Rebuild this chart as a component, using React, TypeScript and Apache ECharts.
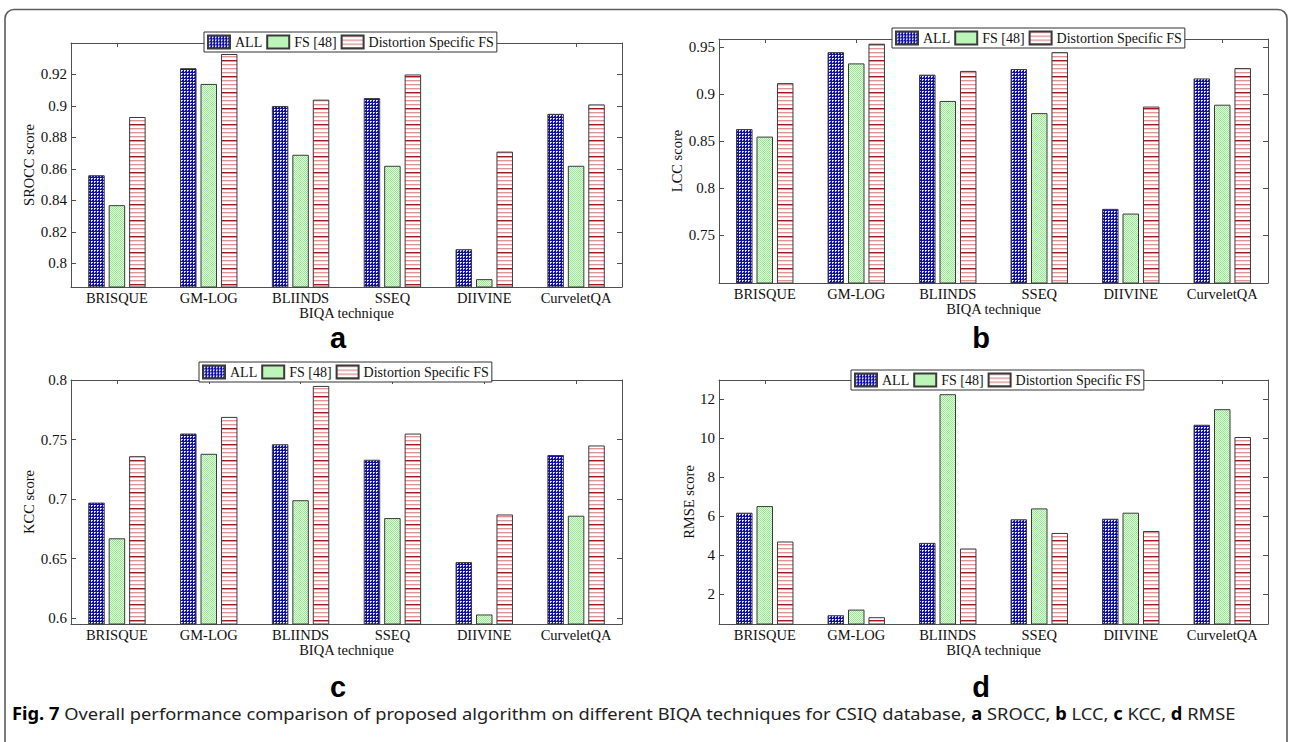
import React, { useEffect, useRef } from 'react';
import * as echarts from 'echarts';

// Categories and series
const techniques = ['BRISQUE', 'GM-LOG', 'BLIINDS', 'SSEQ', 'DIIVINE', 'CurveletQA'];
const seriesNames = ['ALL', 'FS [48]', 'Distortion Specific FS'];

// (a) SROCC
const sroccAll = [0.856, 0.924, 0.9, 0.905, 0.809, 0.895];
const sroccFs = [0.837, 0.914, 0.869, 0.862, 0.79, 0.862];
const sroccDs = [0.893, 0.933, 0.904, 0.92, 0.871, 0.901];
// (b) LCC
const lccAll = [0.863, 0.945, 0.921, 0.927, 0.778, 0.917];
const lccFs = [0.855, 0.933, 0.893, 0.88, 0.773, 0.889];
const lccDs = [0.912, 0.954, 0.925, 0.945, 0.887, 0.928];
// (c) KCC
const kccAll = [0.697, 0.755, 0.746, 0.733, 0.647, 0.737];
const kccFs = [0.667, 0.738, 0.699, 0.684, 0.603, 0.686];
const kccDs = [0.736, 0.769, 0.795, 0.755, 0.687, 0.745];
// (d) RMSE
const rmseAll = [6.18, 0.91, 4.63, 5.84, 5.87, 10.7];
const rmseFs = [6.52, 1.2, 12.27, 6.4, 6.18, 11.5];
const rmseDs = [4.7, 0.81, 4.34, 5.14, 5.24, 10.07];

// Tick labels
const sroccTicks = [0.8, 0.82, 0.84, 0.86, 0.88, 0.9, 0.92];
const lccTicks = [0.75, 0.8, 0.85, 0.9, 0.95];
const kccTicks = [0.6, 0.65, 0.7, 0.75, 0.8];
const rmseTicks = [2, 4, 6, 8, 10, 12];

const captionText =
  '{b|Fig. 7} Overall performance comparison of proposed algorithm on different BIQA techniques for CSIQ database, {b|a} SROCC, {b|b} LCC, {b|c} KCC, {b|d} RMSE';

const SERIF = 'Liberation Serif';
const SANS = '"Liberation Sans", Arial, sans-serif';
const AXIS = '#505050';

function makePattern(w: number, h: number, draw: (ctx: CanvasRenderingContext2D) => void) {
  const c = document.createElement('canvas');
  c.width = w;
  c.height = h;
  const ctx = c.getContext('2d') as CanvasRenderingContext2D;
  draw(ctx);
  return { image: c, repeat: 'repeat', imageWidth: w, imageHeight: h } as any;
}

export default function App() {
  const ref = useRef<HTMLDivElement>(null);

  useEffect(() => {
    if (!ref.current) return;
    const chart = echarts.init(ref.current, undefined, { renderer: 'svg' });

    // Hatch fills: dotted navy, checkered green, red horizontal stripes
    const dotFill = makePattern(3, 3, (ctx) => {
      ctx.fillStyle = '#1212a2';
      ctx.fillRect(0, 0, 3, 3);
      ctx.fillStyle = '#ffffff';
      ctx.fillRect(1, 1, 1, 1);
      ctx.fillStyle = '#c4c4ee';
      ctx.fillRect(2, 1, 1, 1);
      ctx.fillRect(1, 2, 1, 1);
    });
    const greenFill = makePattern(2, 2, (ctx) => {
      ctx.fillStyle = '#e6fde4';
      ctx.fillRect(0, 0, 2, 2);
      ctx.fillStyle = '#94ec8e';
      ctx.fillRect(0, 0, 1, 1);
      ctx.fillRect(1, 1, 1, 1);
    });
    const stripeFill = makePattern(1, 16, (ctx) => {
      ctx.fillStyle = '#ffffff';
      ctx.fillRect(0, 0, 1, 16);
      ctx.fillStyle = '#dc9494';
      ctx.fillRect(0, 0, 1, 1);
      ctx.fillRect(0, 4, 1, 1);
      ctx.fillRect(0, 8, 1, 1);
      ctx.fillStyle = '#f2d6d6';
      ctx.fillRect(0, 1, 1, 1);
      ctx.fillRect(0, 5, 1, 1);
      ctx.fillRect(0, 9, 1, 1);
      ctx.fillStyle = '#a01c1c';
      ctx.fillRect(0, 12, 1, 1);
      ctx.fillStyle = '#d49a9a';
      ctx.fillRect(0, 13, 1, 1);
    });
    const fills = [dotFill, greenFill, stripeFill];

    const panels = [
      {
        grid: { left: 71, top: 43, width: 551, height: 244 },
        min: 0.785, max: 0.94, ticks: sroccTicks, name: 'SROCC score', nameGap: 33,
        data: [sroccAll, sroccFs, sroccDs], legend: { left: 204, top: 32 },
        letter: 'a', letterPos: [338, 338],
      },
      {
        grid: { left: 719, top: 39, width: 549, height: 244 },
        min: 0.699, max: 0.959, ticks: lccTicks, name: 'LCC score', nameGap: 33,
        data: [lccAll, lccFs, lccDs], legend: { left: 892, top: 28 },
        letter: 'b', letterPos: [981, 338],
      },
      {
        grid: { left: 71, top: 380, width: 551, height: 244 },
        min: 0.595, max: 0.8, ticks: kccTicks, name: 'KCC score', nameGap: 33,
        data: [kccAll, kccFs, kccDs], legend: { left: 199, top: 362 },
        letter: 'c', letterPos: [338, 687],
      },
      {
        grid: { left: 719, top: 380, width: 549, height: 244 },
        min: 0.46, max: 13, ticks: rmseTicks, name: 'RMSE score', nameGap: 22,
        data: [rmseAll, rmseFs, rmseDs], legend: { left: 851, top: 370 },
        letter: 'd', letterPos: [981, 687],
      },
    ];

    const fmt = (v: number) => String(Number(Number(v).toFixed(4)));
    const labelStyle = { fontFamily: SERIF, fontSize: 14.5, color: '#111' };

    const grids: any[] = [];
    const xAxes: any[] = [];
    const yAxes: any[] = [];
    const series: any[] = [];
    const legends: any[] = [];
    const graphics: any[] = [];

    panels.forEach((p, i) => {
      grids.push({ ...p.grid, containLabel: false });
      xAxes.push({
        type: 'category', gridIndex: i, position: 'bottom', data: techniques,
        axisLine: { show: true, lineStyle: { color: AXIS, width: 1 } },
        axisTick: { show: true, inside: true, alignWithLabel: true, length: 4, lineStyle: { color: AXIS } },
        axisLabel: { ...labelStyle, margin: 3, interval: 0 },
        name: 'BIQA technique', nameLocation: 'middle', nameGap: 17,
        nameTextStyle: { ...labelStyle },
      });
      xAxes.push({
        type: 'category', gridIndex: i, position: 'top', data: techniques,
        axisLine: { show: true, lineStyle: { color: AXIS, width: 1 } },
        axisTick: { show: true, inside: true, alignWithLabel: true, length: 4, lineStyle: { color: AXIS } },
        axisLabel: { show: false },
      });
      yAxes.push({
        type: 'value', gridIndex: i, position: 'left', min: p.min, max: p.max,
        axisLine: { show: true, lineStyle: { color: AXIS, width: 1 } },
        axisTick: { show: true, inside: true, length: 5, customValues: p.ticks, lineStyle: { color: AXIS } },
        axisLabel: { ...labelStyle, fontSize: 15, margin: 4, customValues: p.ticks, formatter: fmt },
        splitLine: { show: false },
        name: p.name, nameLocation: 'middle', nameGap: p.nameGap,
        nameTextStyle: { ...labelStyle },
      });
      yAxes.push({
        type: 'value', gridIndex: i, position: 'right', min: p.min, max: p.max,
        axisLine: { show: true, lineStyle: { color: AXIS, width: 1 } },
        axisTick: { show: true, inside: true, length: 5, customValues: p.ticks, lineStyle: { color: AXIS } },
        axisLabel: { show: false, customValues: p.ticks },
        splitLine: { show: false },
      });
      p.data.forEach((vals, k) => {
        series.push({
          type: 'bar', name: seriesNames[k], xAxisIndex: 2 * i, yAxisIndex: 2 * i,
          data: vals, barWidth: 16.5, barGap: '24%', clip: true,
          itemStyle: { color: fills[k], borderColor: '#3a3a3a', borderWidth: 1 },
        });
      });
      legends.push({
        ...p.legend, orient: 'horizontal', icon: 'rect', itemWidth: 22, itemHeight: 13,
        itemGap: 4, padding: [2, 3, 2, 3], borderColor: '#333', borderWidth: 1,
        backgroundColor: '#fff', selectedMode: false, data: seriesNames,
        textStyle: { fontFamily: SERIF, fontSize: 14, color: '#111', lineHeight: 16 },
      });
      graphics.push({
        type: 'text', x: p.letterPos[0], y: p.letterPos[1],
        style: {
          text: p.letter, font: `bold 29px ${SANS}`, fill: '#000',
          align: 'center', verticalAlign: 'middle',
        },
      });
    });

    // Caption: measure natural width so it can be fitted to the figure width
    const capSize = 17;
    const capFamily = '"Noto Sans", "Open Sans", sans-serif';
    const mctx = document.createElement('canvas').getContext('2d') as CanvasRenderingContext2D;
    let natural = 0;
    captionText.split(/(\{b\|[^}]*\})/).forEach((seg) => {
      if (!seg) return;
      const m = seg.match(/^\{b\|([^}]*)\}$/);
      mctx.font = m ? `bold ${capSize}px ${capFamily}` : `${capSize}px ${capFamily}`;
      natural += mctx.measureText(m ? m[1] : seg).width;
    });
    const capScale = natural > 0 ? 1223 / natural : 1;

    graphics.push({
      type: 'text', x: 12, y: 713, scaleX: capScale, scaleY: 1,
      style: {
        text: captionText, fontFamily: capFamily, fontSize: capSize, fill: '#222',
        verticalAlign: 'middle', align: 'left',
        rich: { b: { fontFamily: capFamily, fontSize: capSize, fontWeight: 'bold', fill: '#000' } },
      },
    });
    // Rounded frame around the figure
    graphics.push({
      type: 'rect', z: -1, silent: true,
      shape: { x: 5, y: 9.5, width: 1282, height: 780, r: 9 },
      style: { fill: 'none', stroke: '#5c5c5c', lineWidth: 1.6 },
    });

    chart.setOption({
      animation: false,
      backgroundColor: '#fff',
      grid: grids,
      xAxis: xAxes,
      yAxis: yAxes,
      legend: legends,
      series,
      graphic: graphics,
    });

    return () => chart.dispose();
  }, []);

  return (
    <div
      ref={ref}
      style={{ position: 'absolute', left: 0, top: 0, width: 1291, height: 742 }}
    />
  );
}
